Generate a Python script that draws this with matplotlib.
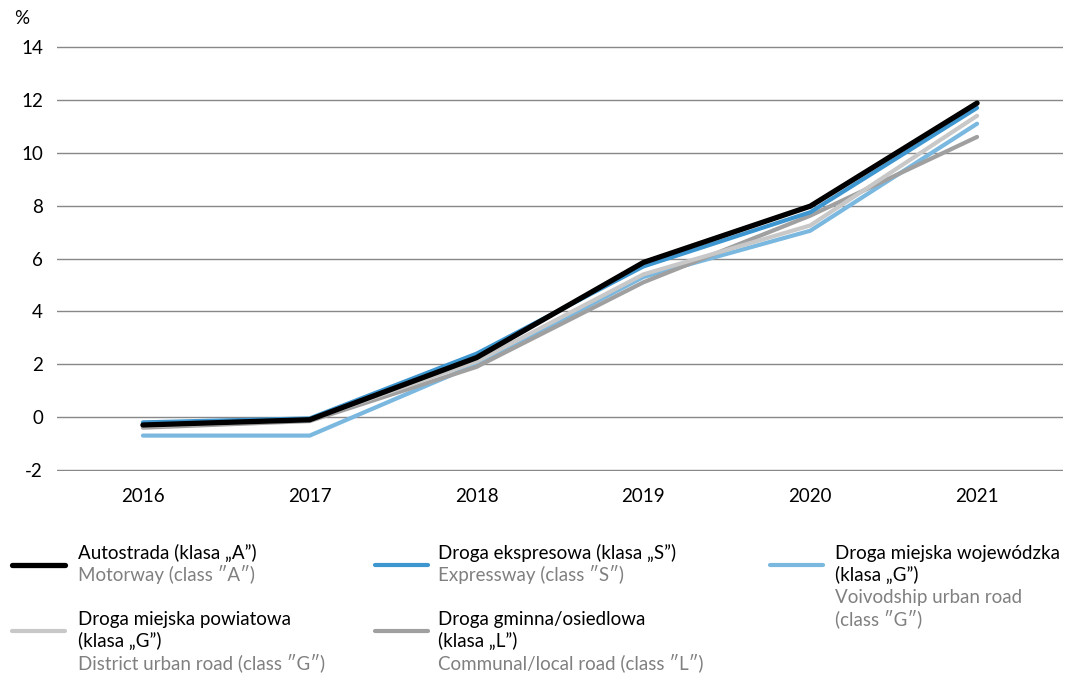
import matplotlib
matplotlib.use("Agg")
import matplotlib.pyplot as plt
from matplotlib.lines import Line2D

plt.rcParams['font.family'] = ['Lato', 'DejaVu Sans']
plt.rcParams['axes.unicode_minus'] = False

# ===== data =====
years = [2016, 2017, 2018, 2019, 2020, 2021]
motorway = [-0.3, -0.1, 2.25, 5.85, 7.98, 11.88]
expressway = [-0.2, -0.05, 2.4, 5.7, 7.75, 11.7]
voivodship = [-0.7, -0.7, 2.0, 5.3, 7.05, 11.1]
district = [-0.35, -0.1, 2.1, 5.4, 7.25, 11.4]
communal = [-0.4, -0.15, 1.9, 5.1, 7.62, 10.6]

# (polish lines, english lines, values, colour, width, legend slot)
series = [
    (["Droga miejska wojewódzka", "(klasa „G”)"], ["Voivodship urban road", "(class ″G″)"],
     voivodship, "#7ab8e0", 3.0, (770, 565, 835, 553)),
    (["Droga gminna/osiedlowa", "(klasa „L”)"], ["Communal/local road (class ″L″)"],
     communal, "#a0a0a0", 3.0, (375, 631, 438, 619)),
    (["Droga miejska powiatowa", "(klasa „G”)"], ["District urban road (class ″G″)"],
     district, "#c8c8c8", 3.0, (12, 631, 78, 619)),
    (["Droga ekspresowa (klasa „S”)"], ["Expressway (class ″S″)"],
     expressway, "#3d96d0", 3.0, (375, 565, 438, 553)),
    (["Autostrada (klasa „A”)"], ["Motorway (class ″A″)"],
     motorway, "#000000", 3.8, (12, 565, 78, 553)),
]

W, H = 1081, 674
fig = plt.figure(figsize=(W / 100, H / 100), dpi=100)
ax = fig.add_axes([57 / W, 1 - 471 / H, (1063 - 57) / W, (471 - 46) / H])

for pl, en, vals, col, lw, slot in series:
    ax.plot(years, vals, color=col, lw=lw, solid_capstyle='round', solid_joinstyle='miter', zorder=3)

ax.set_xlim(2015.485, 2021.515)
ax.set_ylim(-2.04, 14.04)
ax.set_yticks(range(-2, 15, 2))
ax.set_xticks(years)
ax.yaxis.grid(True, color="#888888", lw=1)
ax.set_axisbelow(True)
for s in ax.spines.values():
    s.set_visible(False)
ax.tick_params(length=0, labelsize=13.5, colors="#000000")
ax.tick_params(axis='y', pad=10)
ax.tick_params(axis='x', pad=12)
fig.text(14 / W, 1 - 18 / H, "%", fontsize=13.5, va='center', ha='left')

# ===== legend (manual) =====
lh = 22
for pl, en, vals, col, lw, slot in series:
    lx, ly, tx, ty = slot
    fig.add_artist(Line2D([lx / W, (lx + 53) / W], [1 - ly / H, 1 - ly / H], color=col, lw=lw,
                          solid_capstyle='round', transform=fig.transFigure))
    y = ty
    for t in pl:
        fig.text(tx / W, 1 - y / H, t, fontsize=13.5, va='center', ha='left', color="#000000")
        y += lh
    for t in en:
        fig.text(tx / W, 1 - y / H, t, fontsize=13.5, va='center', ha='left', color="#808080")
        y += lh

fig.savefig("out.png", dpi=100)
